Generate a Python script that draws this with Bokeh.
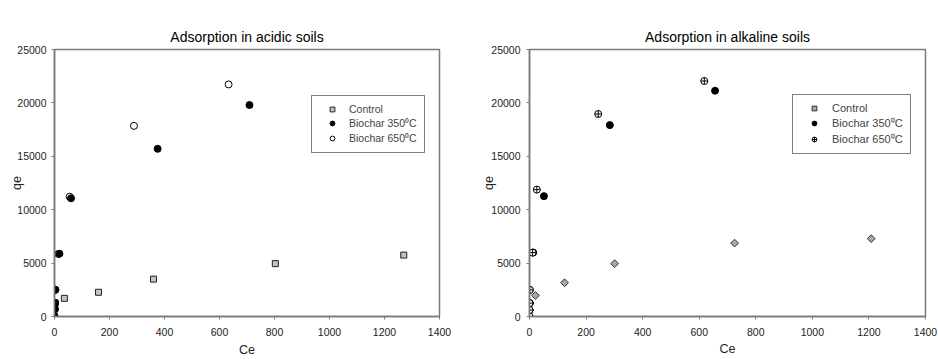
from bokeh.plotting import figure
from bokeh.models import Legend, LegendItem, Range1d, FixedTicker
from bokeh.layouts import row
from bokeh.embed import file_html
from bokeh.resources import INLINE

# ---- Acidic soils ----
acid_ctrl_ce = [0, 1, 2, 36, 160, 360, 803, 1270]
acid_ctrl_qe = [0, 700, 1270, 1700, 2270, 3500, 4950, 5750]
acid_350_ce = [0, 1, 2, 3, 18, 60, 375, 709]
acid_350_qe = [0, 700, 1270, 2500, 5880, 11070, 15700, 19800]
acid_650_ce = [0, 1, 2, 3, 14, 55, 289, 633]
acid_650_qe = [0, 700, 1270, 2500, 5850, 11220, 17850, 21730]

# ---- Alkaline soils ----
alk_ctrl_ce = [0, 1, 2, 21, 124, 301, 725, 1208]
alk_ctrl_qe = [0, 600, 1250, 1975, 3160, 4950, 6870, 7290]
alk_350_ce = [0, 0, 1, 1, 13, 51, 284, 656]
alk_350_qe = [0, 600, 1250, 2490, 5990, 11270, 17920, 21140]
alk_650_ce = [0, 0, 0, 1, 11, 26, 243, 618]
alk_650_qe = [0, 600, 1250, 2490, 5980, 11880, 18960, 22050]

x_ticks = [0, 200, 400, 600, 800, 1000, 1200, 1400]
y_ticks = [0, 5000, 10000, 15000, 20000, 25000]

FONT = "Liberation Sans"
AX = "#7a7a7a"


def base_fig(title, width, bl, br, bt, bb, xls, xals, yls, yals):
    p = figure(width=width, height=359, output_backend="svg", toolbar_location=None,
               x_range=Range1d(0, 1400), y_range=Range1d(0, 25000),
               min_border_left=bl, min_border_right=br,
               min_border_top=bt, min_border_bottom=bb, title=title)
    p.title.text_font = FONT
    p.title.text_font_size = "14px"
    p.title.text_font_style = "normal"
    p.title.align = "center"
    p.title.text_color = "black"
    p.xgrid.visible = False
    p.ygrid.visible = False
    p.outline_line_color = AX
    p.outline_line_width = 1.5
    for ax, lab, tk in ((p.xaxis, "Ce", x_ticks), (p.yaxis, "qe", y_ticks)):
        ax.axis_label = lab
        ax.ticker = FixedTicker(ticks=tk)
        ax.minor_tick_line_color = None
        ax.major_tick_out = 3
        ax.major_tick_in = 0
        ax.axis_line_color = AX
        ax.axis_line_width = 1.5
        ax.major_tick_line_color = AX
        ax.major_label_text_font = FONT
        ax.major_label_text_font_size = "10.5px"
        ax.major_label_text_color = "#222222"
        ax.axis_label_text_font = FONT
        ax.axis_label_text_font_size = "12.5px"
        ax.axis_label_text_font_style = "normal"
        ax.axis_label_text_color = "#222222"
    p.xaxis.major_label_text_line_height = 0.8
    p.xaxis.axis_label_text_line_height = 0.8
    p.xaxis.major_label_standoff = xls
    p.xaxis.axis_label_standoff = xals
    p.yaxis.major_label_standoff = yls
    p.yaxis.axis_label_standoff = yals
    return p


def style_legend(lg, x, y, gw, fs):
    lg.location = (x, y)
    lg.border_line_color = "black"
    lg.border_line_width = 1
    lg.background_fill_alpha = 1
    lg.padding = 7
    lg.spacing = 1
    lg.glyph_height = 12
    lg.glyph_width = gw
    lg.label_height = 12
    lg.label_standoff = 4
    lg.label_text_font = FONT
    lg.label_text_font_size = fs
    lg.margin = 0


# Left panel
p1 = base_fig("Adsorption in acidic soils", 468, 54, 29, 49, 42, 8, 4, 5, -10)
r1c = p1.scatter(acid_ctrl_ce, acid_ctrl_qe, marker="square", size=6,
                 fill_color="#c4c4c4", line_color="#222222", line_width=1)
r1o = p1.scatter(acid_650_ce, acid_650_qe, marker="circle", size=7,
                 fill_color="white", line_color="black", line_width=1)
r1b = p1.scatter(acid_350_ce, acid_350_qe, marker="circle", size=7,
                 fill_color="black", line_color="black", line_width=1)
lg1 = Legend(items=[LegendItem(label="Control", renderers=[r1c]),
                    LegendItem(label="Biochar 350\u2070C", renderers=[r1b]),
                    LegendItem(label="Biochar 650\u2070C", renderers=[r1o])])
style_legend(lg1, 257, 163, 26, "10.5px")
p1.add_layout(lg1, "center")

# Right panel
p2 = base_fig("Adsorption in alkaline soils", 470, 61, 13, 47, 38, 8, 3, 6, -8)
r2c = p2.scatter(alk_ctrl_ce, alk_ctrl_qe, marker="square", size=5.5, angle=0.785398,
                 fill_color="#a8a8a8", line_color="#333333", line_width=1)
r2b = p2.scatter(alk_350_ce, alk_350_qe, marker="circle", size=7,
                 fill_color="black", line_color="black", line_width=1)
r2x = p2.scatter(alk_650_ce, alk_650_qe, marker="circle_cross", size=7,
                 fill_color="white", line_color="black", line_width=1)
lg2 = Legend(items=[LegendItem(label="Control", renderers=[r2c]),
                    LegendItem(label="Biochar 350\u2070C", renderers=[r2b]),
                    LegendItem(label="Biochar 650\u2070C", renderers=[r2x])])
style_legend(lg2, 263, 162, 28, "11px")
p2.add_layout(lg2, "center")

layout = row(p1, p2)
open("out.html", "w").write(file_html(layout, INLINE))
